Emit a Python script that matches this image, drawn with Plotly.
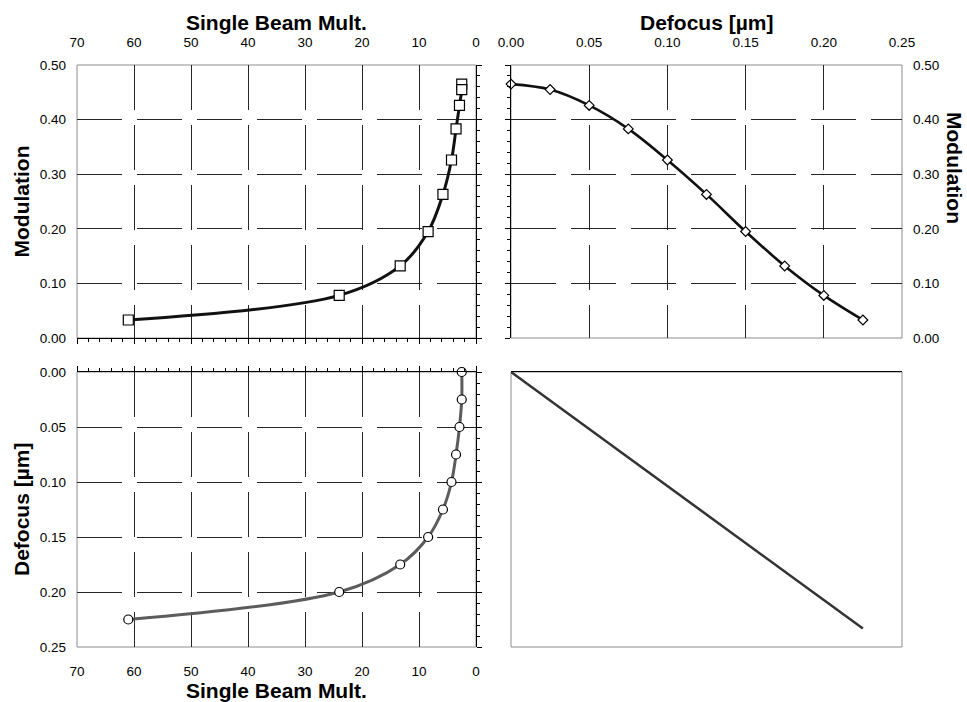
import plotly.graph_objects as go

# Measured series: ten defocus steps
defocus = [0.000, 0.025, 0.050, 0.075, 0.100, 0.125, 0.150, 0.175, 0.200, 0.225]
modulation = [0.465, 0.455, 0.426, 0.383, 0.326, 0.263, 0.195, 0.132, 0.078, 0.033]
beam_mult = [2.5, 2.5, 2.9, 3.5, 4.3, 5.8, 8.4, 13.3, 24.0, 61.0]

mult_range = [70, 0]
mod_range = [0, 0.5]
defocus_range = [0, 0.25]
defocus_range_rev = [0.25, 0]
ident_range_rev = [0.2412, 0]

FONT = "Liberation Sans, Arial, sans-serif"
TICKFONT = dict(family=FONT, size=13.5, color="black")
TITLEFONT = dict(family=FONT, size=21, color="black")

W, H = 967, 702
XL = [77 / W, 476 / W]
XR = [511 / W, 902 / W]
YT = [1 - 338 / H, 1 - 65 / H]
YB = [1 - 647 / H, 1 - 372 / H]

grid = dict(showgrid=True, gridcolor="#262626", gridwidth=1, griddash="45px,15px")
tick_axis = dict(showline=True, linecolor="black", linewidth=1, ticks="outside",
                 ticklen=5, tickwidth=1, tickcolor="black", showticklabels=False,
                 zeroline=False, automargin=False)
label_axis = dict(showgrid=False, zeroline=False, ticks="", showline=False,
                  showticklabels=True, tickfont=TICKFONT, automargin=False)


def minor(step):
    return dict(dtick=step, ticks="outside", ticklen=3, tickwidth=1,
                tickcolor="black", showgrid=False)


fig = go.Figure()

# Modulation vs single beam multiplicity
fig.add_trace(go.Scatter(
    x=beam_mult, y=modulation, xaxis="x", yaxis="y", mode="lines+markers",
    line=dict(color="#111111", width=3, shape="spline"),
    marker=dict(symbol="square", size=10, color="white",
                line=dict(color="black", width=1.2)),
    cliponaxis=False, showlegend=False, hoverinfo="skip"))

# Modulation vs defocus
fig.add_trace(go.Scatter(
    x=defocus, y=modulation, xaxis="x2", yaxis="y2", mode="lines+markers",
    line=dict(color="#111111", width=2.6, shape="spline"),
    marker=dict(symbol="diamond", size=7.5, color="white",
                line=dict(color="black", width=1.2)),
    cliponaxis=False, showlegend=False, hoverinfo="skip"))

# Defocus vs single beam multiplicity
fig.add_trace(go.Scatter(
    x=beam_mult, y=defocus, xaxis="x3", yaxis="y3", mode="lines+markers",
    line=dict(color="#5c5c5c", width=3, shape="spline"),
    marker=dict(symbol="circle", size=9, color="white",
                line=dict(color="black", width=1.2)),
    cliponaxis=False, showlegend=False, hoverinfo="skip"))

# Defocus mapped onto itself
fig.add_trace(go.Scatter(
    x=defocus, y=defocus, xaxis="x4", yaxis="y4", mode="lines",
    line=dict(color="#333333", width=2.5),
    showlegend=False, hoverinfo="skip"))

# Transparent copies so the label-only companion axes get drawn
for xa, ya, xs, ys in [("x5", "y", beam_mult, modulation),
                       ("x", "y5", beam_mult, modulation),
                       ("x2", "y6", defocus, modulation),
                       ("x7", "y3", beam_mult, defocus),
                       ("x3", "y7", beam_mult, defocus)]:
    fig.add_trace(go.Scatter(x=xs, y=ys, xaxis=xa, yaxis=ya, mode="markers",
                             marker=dict(opacity=0), showlegend=False,
                             hoverinfo="skip"))

fig.update_layout(
    width=W, height=H, margin=dict(l=0, r=0, t=0, b=0, autoexpand=False),
    paper_bgcolor="white", plot_bgcolor="white", showlegend=False,
    # top-left
    xaxis=dict(domain=XL, anchor="y", side="bottom", range=mult_range,
               tick0=0, dtick=10, minor=minor(2), **grid, **tick_axis),
    xaxis5=dict(overlaying="x", anchor="y", side="top", range=mult_range,
                tick0=0, dtick=10, ticklabelstandoff=14, **label_axis),
    yaxis=dict(domain=YT, anchor="x", side="right", range=mod_range,
               tick0=0, dtick=0.1, minor=minor(0.02), **grid, **tick_axis),
    yaxis5=dict(overlaying="y", anchor="x", side="left", range=mod_range,
                tick0=0, dtick=0.1, tickformat=".2f", ticklabelstandoff=10,
                **label_axis),
    # top-right
    xaxis2=dict(domain=XR, anchor="y2", side="top", range=defocus_range,
                tick0=0, dtick=0.05, tickformat=".2f", ticklabelstandoff=14,
                **grid, showline=False, zeroline=False, ticks="",
                showticklabels=True, tickfont=TICKFONT, automargin=False),
    yaxis2=dict(domain=YT, anchor="x2", side="left", range=mod_range,
                tick0=0, dtick=0.1, minor=minor(0.02), **grid, **tick_axis),
    yaxis6=dict(overlaying="y2", anchor="x2", side="right", range=mod_range,
                tick0=0, dtick=0.1, tickformat=".2f", ticklabelstandoff=10,
                **label_axis),
    # bottom-left
    xaxis3=dict(domain=XL, anchor="y3", side="top", range=mult_range,
                tick0=0, dtick=10, minor=minor(2), **grid, **tick_axis),
    xaxis7=dict(overlaying="x3", anchor="y3", side="bottom", range=mult_range,
                tick0=0, dtick=10, ticklabelstandoff=14, **label_axis),
    yaxis3=dict(domain=YB, anchor="x3", side="right", range=defocus_range_rev,
                tick0=0, dtick=0.05, minor=minor(0.01), **grid, **tick_axis),
    yaxis7=dict(overlaying="y3", anchor="x3", side="left", range=defocus_range_rev,
                tick0=0, dtick=0.05, tickformat=".2f", ticklabelstandoff=10,
                **label_axis),
    # bottom-right
    xaxis4=dict(domain=XR, anchor="y4", side="top", range=defocus_range,
                showline=True, linecolor="black", linewidth=1, ticks="",
                showticklabels=False, showgrid=False, zeroline=False,
                automargin=False),
    yaxis4=dict(domain=YB, anchor="x4", range=ident_range_rev, showline=False,
                ticks="", showticklabels=False, showgrid=False, zeroline=False,
                automargin=False),
)

# Plot-area frames in light grey, under the black axis lines
for xr, yr in [("x", "y"), ("x2", "y2"), ("x3", "y3"), ("x4", "y4")]:
    fig.add_shape(type="rect", xref=f"{xr} domain", yref=f"{yr} domain",
                  x0=0, x1=1, y0=0, y1=1, layer="below",
                  line=dict(color="#8c8c8c", width=1))

titles = [
    ("<b>Single Beam Mult.</b>", 276.5, 22, 0),
    ("<b>Defocus [µm]</b>", 706.5, 22, 0),
    ("<b>Single Beam Mult.</b>", 276.5, 690, 0),
    ("<b>Modulation</b>", 21, 201.5, -90),
    ("<b>Defocus [µm]</b>", 21, 510, -90),
    ("<b>Modulation</b>", 955, 168, 90),
]
for text, px, py, ang in titles:
    fig.add_annotation(text=text, xref="paper", yref="paper", x=px / W,
                       y=1 - py / H, xanchor="center", yanchor="middle",
                       showarrow=False, textangle=ang, font=TITLEFONT)

fig.write_html("out.html")
